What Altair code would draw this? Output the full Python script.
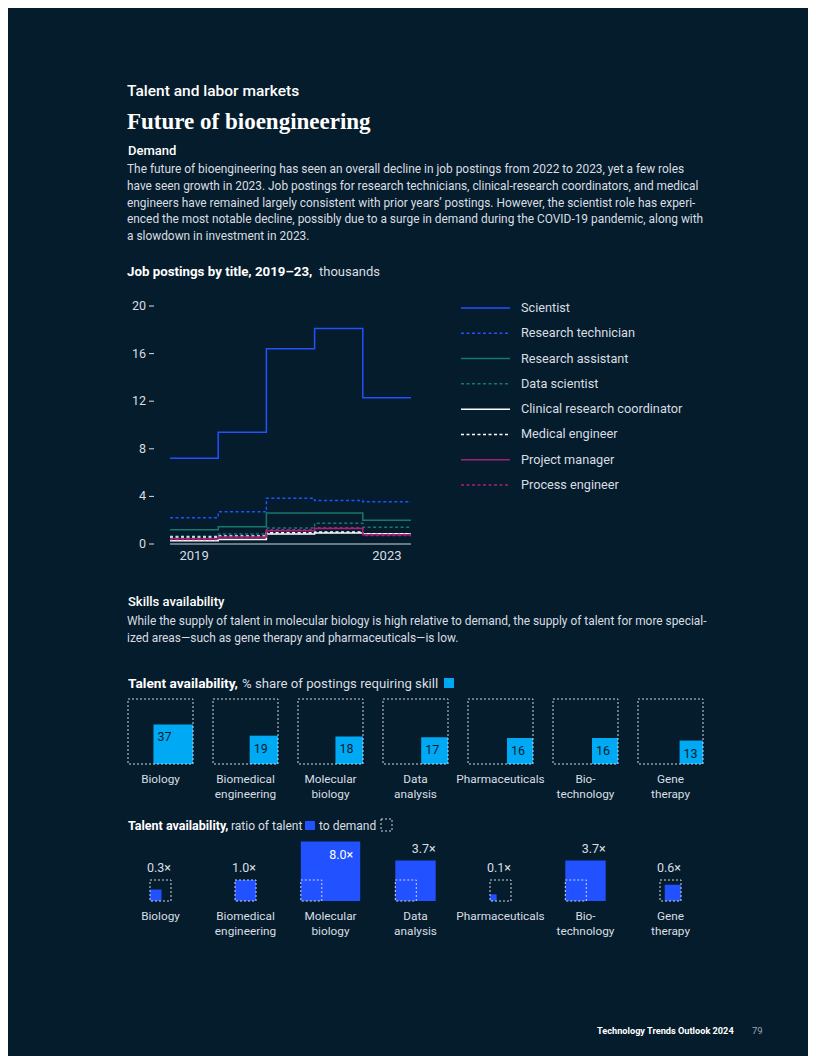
import altair as alt
import pandas as pd

# ---------------- data ----------------
years = [2019, 2020, 2021, 2022, 2023]
series = ["Scientist", "Research technician", "Research assistant", "Data scientist",
          "Clinical research coordinator", "Medical engineer", "Project manager", "Process engineer"]
scientist = [7.2, 9.4, 16.4, 18.1, 12.3]
research_technician = [2.2, 2.7, 3.85, 3.65, 3.55]
research_assistant = [1.2, 1.45, 2.6, 2.6, 2.0]
data_scientist = [0.68, 0.85, 1.35, 1.75, 1.4]
clinical_research_coordinator = [0.28, 0.37, 0.84, 0.92, 0.84]
medical_engineer = [0.58, 0.67, 0.95, 1.0, 0.87]
project_manager = [0.45, 0.58, 1.12, 1.3, 0.78]
process_engineer = [0.38, 0.5, 1.2, 1.37, 0.72]
y_ticks = [0, 4, 8, 12, 16, 20]
x_tick_years = [2019, 2023]

skills = ["Biology", "Biomedical engineering", "Molecular biology", "Data analysis",
          "Pharmaceuticals", "Biotechnology", "Gene therapy"]
skill_labels = ["Biology", "Biomedical\nengineering", "Molecular\nbiology", "Data\nanalysis",
                "Pharmaceuticals", "Bio-\ntechnology", "Gene\ntherapy"]
share_pct = [37, 19, 18, 17, 16, 16, 13]
talent_ratio = [0.3, 1.0, 8.0, 3.7, 0.1, 3.7, 0.6]

# ---------------- styles ----------------
BG = "#051C2C"
WHITE = "#FFFFFF"
BODY = "#D9DEE2"
SANS = "Roboto"
SERIF = "Liberation Serif"
BLUE = "#2251FF"
CYAN = "#00A9F4"
TEAL = "#17786F"
MAGENTA = "#A3217A"
colors = [BLUE, BLUE, TEAL, TEAL, WHITE, WHITE, MAGENTA, MAGENTA]
dashes = [[1, 0], [3, 2.5], [1, 0], [3, 2.5], [1, 0], [3, 2.5], [1, 0], [3, 2.5]]

values = [scientist, research_technician, research_assistant, data_scientist,
          clinical_research_coordinator, medical_engineer, project_manager, process_engineer]

rows = []
for s, vals in zip(series, values):
    for yr, v in zip(years, vals):
        rows.append({"series": s, "x": yr - 0.5, "v": v})
    rows.append({"series": s, "x": years[-1] + 0.5, "v": vals[-1]})
lines_df = pd.DataFrame(rows)

dummy = pd.DataFrame({"a": [0]})


def label(text, x, y, size=12, weight="normal", font=SANS, color=BODY, align="left",
          baseline="alphabetic", line_height=None):
    kw = dict(text=text, fontSize=size, fontWeight=weight, font=font, color=color,
              align=align, baseline=baseline)
    if line_height is not None:
        kw["lineBreak"] = "\n"
        kw["lineHeight"] = line_height
    return alt.Chart(dummy).mark_text(**kw).encode(x=alt.value(x), y=alt.value(y))


layers = []

# ---------------- header text ----------------
layers.append(label("Talent and labor markets", 119, 88, size=15.5, weight=500, color=WHITE))
layers.append(label("Future of bioengineering", 119, 121, size=23, weight="bold", font=SERIF, color=WHITE))
layers.append(label("Demand", 120, 147, size=13, weight=500, color=WHITE))
para1 = ("The future of bioengineering has seen an overall decline in job postings from 2022 to 2023, yet a few roles\n"
         "have seen growth in 2023. Job postings for research technicians, clinical-research coordinators, and medical\n"
         "engineers have remained largely consistent with prior years\u2019 postings. However, the scientist role has experi-\n"
         "enced the most notable decline, possibly due to a surge in demand during the COVID-19 pandemic, along with\n"
         "a slowdown in investment in 2023.")
layers.append(label(para1, 119, 165.3, size=11.9, line_height=16.7))
layers.append(label("Job postings by title, 2019\u201323,", 119, 267.7, size=13.3, weight="bold", color=WHITE))
layers.append(label("thousands", 311, 267.7, size=13, color=BODY))

# ---------------- line chart ----------------
XS = alt.Scale(domain=[2018.5, 2023.5], range=[162, 403], nice=False, zero=False)
YS = alt.Scale(domain=[0, 20], range=[536, 298], nice=False)
color_scale = alt.Scale(domain=series, range=colors)
dash_scale = alt.Scale(domain=series, range=dashes)

base_df = pd.DataFrame({"x": [2018.5], "x2": [2023.5], "v": [0]})
layers.append(alt.Chart(base_df).mark_rule(color="#8C99A4", strokeWidth=1.5).encode(
    x=alt.X("x:Q", scale=XS, axis=None), x2="x2:Q", y=alt.Y("v:Q", scale=YS, axis=None)))

layers.append(alt.Chart(lines_df).mark_line(interpolate="step-after", strokeWidth=1.5).encode(
    x=alt.X("x:Q", scale=XS, axis=None),
    y=alt.Y("v:Q", scale=YS, axis=None),
    color=alt.Color("series:N", scale=color_scale, legend=None),
    strokeDash=alt.StrokeDash("series:N", scale=dash_scale, legend=None),
))

yt_df = pd.DataFrame({"t": y_ticks})
layers.append(alt.Chart(yt_df).mark_text(align="right", baseline="middle", fontSize=12.5, font=SANS, color=BODY).encode(
    x=alt.value(138), y=alt.Y("t:Q", scale=YS, axis=None), text="t:Q"))
layers.append(alt.Chart(yt_df).mark_rule(color=BODY, strokeWidth=1).encode(
    x=alt.value(141), x2=alt.value(146), y=alt.Y("t:Q", scale=YS, axis=None)))

xt_df = pd.DataFrame({"yr": x_tick_years, "lab": [str(y) for y in x_tick_years]})
layers.append(alt.Chart(xt_df).mark_text(align="center", baseline="alphabetic", fontSize=13, font=SANS, color=BODY).encode(
    x=alt.X("yr:Q", scale=XS, axis=None), y=alt.value(552), text="lab:N"))

# legend
leg_df = pd.DataFrame({"series": series, "idx": list(range(len(series)))})
LS = alt.Scale(domain=[0, len(series) - 1], range=[300, 477], nice=False)
layers.append(alt.Chart(leg_df).mark_rule(strokeWidth=1.5).encode(
    x=alt.value(453), x2=alt.value(502),
    y=alt.Y("idx:Q", scale=LS, axis=None),
    color=alt.Color("series:N", scale=color_scale, legend=None),
    strokeDash=alt.StrokeDash("series:N", scale=dash_scale, legend=None)))
layers.append(alt.Chart(leg_df).mark_text(align="left", baseline="middle", fontSize=12.7, font=SANS, color=BODY).encode(
    x=alt.value(513), y=alt.Y("idx:Q", scale=LS, axis=None), text="series:N"))

# ---------------- skills text ----------------
layers.append(label("Skills availability", 120, 598, size=13, weight=500, color=WHITE))
para2 = ("While the supply of talent in molecular biology is high relative to demand, the supply of talent for more special-\n"
         "ized areas\u2014such as gene therapy and pharmaceuticals\u2014is low.")
layers.append(label(para2, 119, 616.5, size=11.9, line_height=17))

layers.append(label("Talent availability,", 120, 680, size=13.7, weight="bold", color=WHITE))
layers.append(label("% share of postings requiring skill", 234, 680, size=13.2, color=BODY))
layers.append(alt.Chart(dummy).mark_rect(color=CYAN).encode(
    x=alt.value(436), x2=alt.value(446), y=alt.value(670), y2=alt.value(680)))

# ---------------- share squares ----------------
W = 65 / 85
share_df = pd.DataFrame({"skill": skills, "lab": skill_labels, "pct": share_pct, "i": list(range(len(skills)))})
SX = alt.Scale(domain=[0, 7], range=[120, 715], nice=False, zero=False)
SY = alt.Scale(domain=[0, 1], range=[756, 671], nice=False)
share_base = alt.Chart(share_df).transform_calculate(
    s=f"sqrt(datum.pct / 100) * {W}",
    x0="datum.i",
    x1=f"datum.i + {W}",
    fx0=f"datum.i + {W} - sqrt(datum.pct / 100) * {W}",
    cx=f"datum.i + {W} / 2",
    zero="0",
    top=f"{W}",
)
layers.append(share_base.mark_rect(color=CYAN).encode(
    x=alt.X("fx0:Q", scale=SX, axis=None), x2="x1:Q",
    y=alt.Y("zero:Q", scale=SY, axis=None), y2="s:Q"))
layers.append(share_base.mark_rect(fillOpacity=0, stroke="#D0D6DB", strokeWidth=1, strokeDash=[2, 2]).encode(
    x=alt.X("x0:Q", scale=SX, axis=None), x2="x1:Q",
    y=alt.Y("zero:Q", scale=SY, axis=None), y2="top:Q"))
layers.append(share_base.mark_text(align="left", baseline="top", dx=4, dy=7, fontSize=12.5, font=SANS, color=BG).encode(
    x=alt.X("fx0:Q", scale=SX, axis=None), y=alt.Y("s:Q", scale=SY, axis=None), text="pct:Q"))
layers.append(share_base.mark_text(align="center", baseline="alphabetic", dy=19, fontSize=11.8, font=SANS,
                                   color=BODY, lineBreak="\n", lineHeight=15).encode(
    x=alt.X("cx:Q", scale=SX, axis=None), y=alt.Y("zero:Q", scale=SY, axis=None), text="lab:N"))

# ---------------- ratio squares ----------------
layers.append(label("Talent availability,", 120, 822, size=12.5, weight="bold", color=WHITE))
layers.append(label("ratio of talent", 223, 822, size=12, color=BODY))
layers.append(alt.Chart(dummy).mark_rect(color=BLUE).encode(
    x=alt.value(297), x2=alt.value(307), y=alt.value(813), y2=alt.value(822)))
layers.append(label("to demand", 311, 822, size=12, color=BODY))
layers.append(alt.Chart(dummy).mark_rect(fillOpacity=0, stroke="#D0D6DB", strokeWidth=1, strokeDash=[2, 2]).encode(
    x=alt.value(373), x2=alt.value(384), y=alt.value(811), y2=alt.value(823)))

D = 21 / 85
ratio_df = pd.DataFrame({"skill": skills, "lab": skill_labels, "ratio": talent_ratio, "i": list(range(len(skills)))})
RY = alt.Scale(domain=[0, 1], range=[893, 808], nice=False)
ratio_base = alt.Chart(ratio_df).transform_calculate(
    f=f"{D} * sqrt(datum.ratio)",
    c=f"datum.i + {W} / 2",
).transform_calculate(
    B=f"max({D}, datum.f)",
).transform_calculate(
    left="datum.c - datum.B / 2",
).transform_calculate(
    dx1=f"datum.left + {D}",
    fx0=f"datum.skill == 'Gene therapy' ? datum.left + {D} - datum.f : datum.left",
    right="datum.left + datum.B",
    zero="0",
    d=f"{D}",
    lbl="format(datum.ratio, '.1f') + '\u00d7'",
).transform_calculate(
    fx1="datum.fx0 + datum.f",
)
layers.append(ratio_base.mark_rect(color=BLUE).encode(
    x=alt.X("fx0:Q", scale=SX, axis=None), x2="fx1:Q",
    y=alt.Y("zero:Q", scale=RY, axis=None), y2="f:Q"))
layers.append(ratio_base.mark_rect(fillOpacity=0, stroke="#D0D6DB", strokeWidth=1, strokeDash=[2, 2]).encode(
    x=alt.X("left:Q", scale=SX, axis=None), x2="dx1:Q",
    y=alt.Y("zero:Q", scale=RY, axis=None), y2="d:Q"))
layers.append(ratio_base.transform_filter("datum.ratio < 5").mark_text(
    align="right", baseline="alphabetic", dy=-8, fontSize=12.5, font=SANS, color=BODY).encode(
    x=alt.X("right:Q", scale=SX, axis=None), y=alt.Y("B:Q", scale=RY, axis=None), text="lbl:N"))
layers.append(ratio_base.transform_filter("datum.ratio >= 5").mark_text(
    align="right", baseline="alphabetic", dx=-7, dy=17, fontSize=12.5, font=SANS, color=WHITE).encode(
    x=alt.X("right:Q", scale=SX, axis=None), y=alt.Y("B:Q", scale=RY, axis=None), text="lbl:N"))
layers.append(ratio_base.mark_text(align="center", baseline="alphabetic", dy=19, fontSize=11.8, font=SANS,
                                   color=BODY, lineBreak="\n", lineHeight=15).encode(
    x=alt.X("c:Q", scale=SX, axis=None), y=alt.Y("zero:Q", scale=RY, axis=None), text="lab:N"))

# ---------------- footer ----------------
layers.append(label("Technology Trends Outlook 2024", 589, 1026, size=9.2, weight="bold", color=WHITE))
layers.append(label("79", 744, 1026, size=9.5, color="#9AA5AE"))

chart = alt.layer(*layers).resolve_scale(
    x="independent", y="independent", color="independent", strokeDash="independent"
).properties(
    width=800, height=1048, padding=0, autosize="none", background=BG
).configure_view(stroke=None)

chart.save("out.html", embed_options={"renderer": "svg", "actions": False})
